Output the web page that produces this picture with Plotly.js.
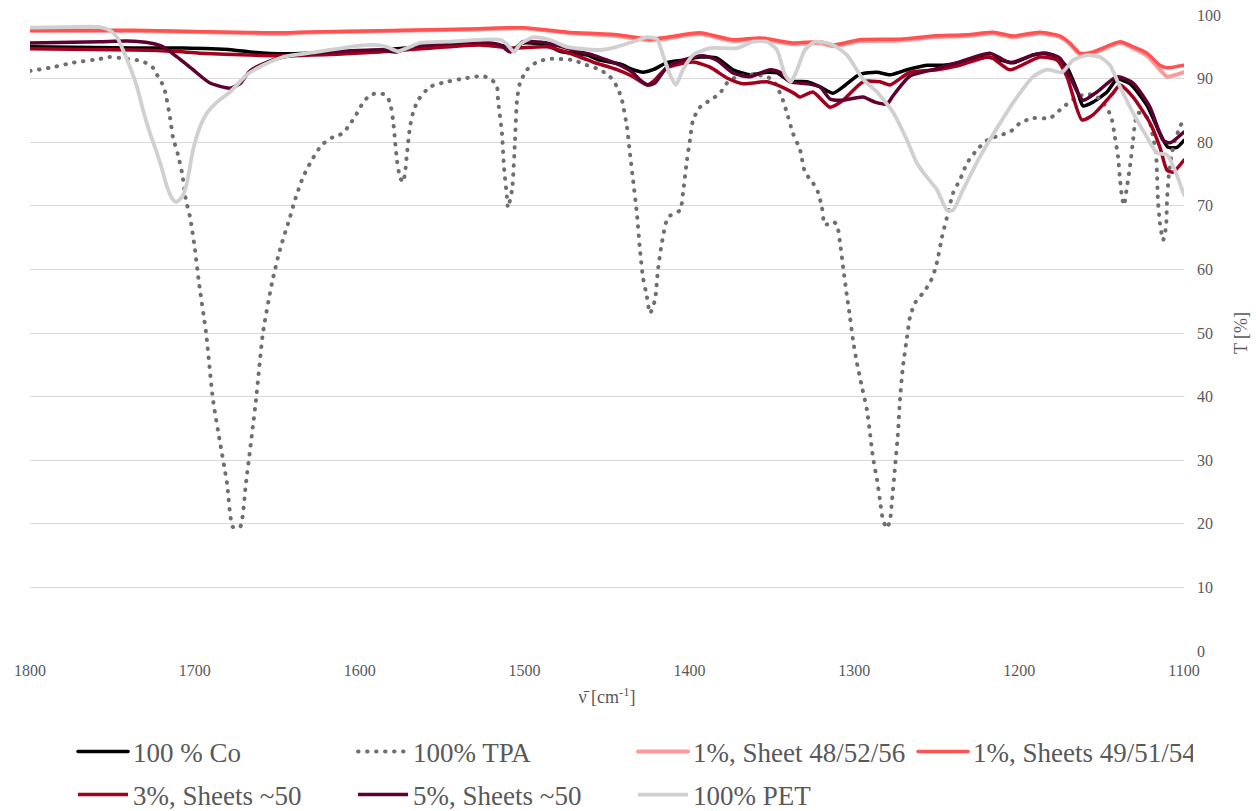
<!DOCTYPE html>
<html>
<head>
<meta charset="utf-8">
<script src="https://cdn.plot.ly/plotly-3.0.1.min.js"></script>
<style>
  html, body { margin: 0; padding: 0; background: #ffffff; font-family: "Liberation Serif", serif; }
  #chart { width: 1256px; height: 811px; }
  .scatterlayer path.js-line, .legend path.js-line { stroke-linecap: round; stroke-linejoin: round; }
</style>
</head>
<body>
<div id="chart"></div>
<script>
// FTIR transmission spectra, 1800–1100 cm-1

const coWn = [1800, 1737.5, 1707.2, 1676.9, 1666.6, 1646.5, 1587.7, 1527.0, 1510.7, 1507.0, 1501.0, 1486.4, 1478.5, 1462.1, 1454.3, 1442.1, 1434.2, 1428.2, 1422.1, 1413.6, 1403.9, 1393.6, 1383.3, 1373.6, 1363.3, 1352.9, 1346.9, 1339.0, 1328.7, 1320.8, 1312.9, 1306.8, 1296.5, 1286.2, 1278.3, 1268.0, 1255.9, 1246.2, 1235.9, 1219.5, 1203.7, 1191.6, 1185.5, 1177.0, 1171.0, 1164.9, 1161.3, 1155.2, 1146.7, 1140.6, 1132.8, 1122.5, 1114.6, 1109.7, 1104.3, 1100];
const coT  = [95.0, 94.8, 94.8, 94.5, 94.2, 93.9, 94.5, 95.6, 95.0, 94.5, 95.6, 95.3, 94.3, 93.7, 92.9, 92.3, 91.4, 91.0, 91.4, 92.5, 92.9, 93.4, 93.2, 91.4, 90.6, 91.0, 90.9, 89.6, 89.5, 88.7, 87.7, 88.7, 90.7, 91.0, 90.6, 91.4, 92.1, 92.1, 92.5, 93.4, 92.5, 93.7, 94.0, 93.4, 91.8, 88.2, 85.7, 86.3, 87.9, 89.9, 89.2, 85.8, 81.4, 79.2, 79.2, 80.3];

const tpaWn = [1800, 1786, 1774, 1757.5, 1752, 1741, 1735, 1730, 1725.4, 1723, 1720, 1718, 1715, 1713.3, 1710.2, 1707.8, 1705.4, 1702.9, 1699.9, 1697.5, 1693.2, 1689, 1684.8, 1680.5, 1676.9, 1672.6, 1669, 1662.9, 1658.7, 1653.2, 1648.4, 1642.3, 1639.3, 1634.4, 1629, 1622.9, 1616.2, 1610.1, 1607.1, 1602.9, 1598, 1593.8, 1588.9, 1584.1, 1581.6, 1579.8, 1578.6, 1577.4, 1575.6, 1573.7, 1572.5, 1571.3, 1569.5, 1567.7, 1564.6, 1557.4, 1547.1, 1534.9, 1525.2, 1519.8, 1516.7, 1516.1, 1513.7, 1512.5, 1510.7, 1510.1, 1507.6, 1505.8, 1504.6, 1502.8, 1498.5, 1492.5, 1484.6, 1470.6, 1462.1, 1454.3, 1448.2, 1443.9, 1440.9, 1437.9, 1436.1, 1434.2, 1431.8, 1430, 1428.2, 1425.8, 1423.9, 1420.9, 1419.1, 1416.7, 1413, 1405.7, 1403.9, 1401.5, 1399.7, 1397.8, 1393.6, 1387.5, 1381.5, 1377.2, 1371.1, 1361.4, 1352.9, 1348.1, 1343.3, 1340.2, 1337.2, 1332.9, 1329.9, 1325.1, 1322.1, 1319.6, 1317.8, 1312.9, 1310.5, 1308.7, 1306.8, 1304.4, 1302.6, 1300.8, 1298.4, 1295.3, 1292.3, 1290.5, 1288.7, 1286.2, 1284.4, 1282.6, 1280.2, 1278.3, 1277.1, 1275.3, 1273.5, 1272.3, 1270.5, 1268, 1266.2, 1263.2, 1258.3, 1254.1, 1251.1, 1249.2, 1246.8, 1243.8, 1240.1, 1235.9, 1231.6, 1225.6, 1219.5, 1211.6, 1205.6, 1199.5, 1191.6, 1181.3, 1173.4, 1164.9, 1158.8, 1152.8, 1149.1, 1146.1, 1143.7, 1141.9, 1140, 1138.8, 1137.6, 1136.4, 1134.6, 1132.8, 1130.9, 1129.7, 1127.9, 1123.7, 1120.6, 1118.8, 1117, 1116.4, 1115.8, 1114.6, 1112.7, 1110.9, 1110.3, 1109.1, 1107.3, 1105.5, 1102.4, 1100];
const tpaT  = [91.2, 91.8, 92.5, 93.1, 93.4, 93.1, 92.9, 92.5, 91.7, 90.6, 89.3, 87.9, 83.8, 80.8, 78.0, 75.2, 70.9, 68.2, 63.1, 57.9, 50.0, 39.5, 32.9, 26.4, 19.5, 19.5, 26.4, 39.5, 50.0, 57.9, 63.1, 68.2, 70.9, 74.5, 77.2, 79.6, 80.8, 81.4, 82.4, 84.0, 86.2, 87.4, 87.7, 87.4, 86.2, 83.5, 80.3, 77.2, 74.5, 73.7, 75.2, 78.3, 82.4, 84.6, 86.6, 88.7, 89.5, 90.1, 90.4, 89.8, 88.7, 86.6, 81.4, 76.1, 71.4, 69.7, 72.5, 80.3, 86.6, 89.3, 91.4, 92.6, 93.1, 92.9, 92.1, 91.4, 90.3, 88.7, 86.6, 82.4, 78.3, 74.1, 68.6, 63.1, 58.8, 55.7, 53.1, 55.2, 59.9, 64.2, 68.2, 69.3, 72.0, 77.2, 80.3, 83.5, 85.5, 86.6, 87.7, 89.3, 90.3, 90.6, 90.3, 89.3, 86.6, 84.0, 81.4, 78.8, 75.3, 73.6, 72.2, 69.7, 67.0, 67.5, 67.0, 64.3, 60.4, 55.7, 52.5, 48.9, 45.3, 41.5, 37.9, 34.3, 30.5, 26.9, 23.7, 20.6, 19.3, 20.6, 23.7, 28.9, 34.3, 39.5, 44.7, 49.4, 52.5, 54.7, 56.3, 57.9, 59.9, 61.9, 65.1, 68.2, 72.0, 74.1, 76.7, 78.8, 80.3, 81.1, 81.6, 83.0, 83.8, 83.8, 85.5, 87.1, 87.6, 87.1, 86.2, 85.1, 83.5, 80.8, 77.7, 74.1, 71.4, 70.1, 73.0, 76.1, 80.3, 83.0, 84.6, 84.3, 83.0, 80.8, 78.3, 75.2, 70.9, 67.3, 64.6, 66.7, 70.9, 75.2, 78.3, 80.3, 82.4, 83.8];

const s1aWn = [1800, 1737.5, 1676.9, 1646.5, 1636.2, 1595.6, 1534.9, 1501.0, 1474.3, 1443.9, 1423.9, 1413.6, 1393.6, 1373.6, 1357.2, 1337.2, 1320.8, 1312.9, 1296.5, 1272.3, 1252.3, 1231.6, 1215.9, 1203.7, 1187.4, 1175.2, 1169.2, 1163.1, 1155.2, 1138.8, 1130.9, 1122.5, 1114.6, 1110.3, 1100];
const s1aT  = [97.5, 97.5, 97.2, 97.0, 97.2, 97.4, 97.7, 97.9, 97.2, 96.7, 96.0, 96.3, 97.0, 95.9, 96.2, 95.4, 95.6, 95.1, 95.9, 96.0, 96.5, 96.7, 97.1, 96.5, 97.1, 96.5, 95.4, 93.8, 94.0, 95.6, 94.8, 93.6, 91.4, 90.3, 91.0];

const s1bWn = [1800, 1737.5, 1676.9, 1646.5, 1636.2, 1595.6, 1534.9, 1501.0, 1474.3, 1443.9, 1423.9, 1413.6, 1393.6, 1373.6, 1357.2, 1337.2, 1320.8, 1312.9, 1296.5, 1272.3, 1252.3, 1231.6, 1215.9, 1203.7, 1187.4, 1175.2, 1169.2, 1163.1, 1155.2, 1138.8, 1130.9, 1122.5, 1114.6, 1110.3, 1100];
const s1bT  = [97.6, 97.6, 97.3, 97.2, 97.3, 97.5, 97.8, 98.0, 97.3, 96.9, 96.2, 96.5, 97.2, 96.1, 96.4, 95.6, 95.8, 95.3, 96.1, 96.2, 96.7, 96.9, 97.3, 96.7, 97.3, 96.7, 95.6, 94.0, 94.2, 95.8, 95.0, 94.0, 92.1, 91.7, 92.1];

const s3Wn = [1800, 1737.5, 1713.3, 1696.9, 1666.6, 1646.5, 1587.7, 1527.0, 1507.0, 1486.4, 1466.4, 1458.5, 1443.9, 1434.2, 1425.8, 1422.1, 1413.6, 1397.8, 1387.5, 1377.2, 1367.5, 1352.9, 1345.1, 1336.0, 1332.9, 1325.1, 1314.7, 1306.8, 1294.7, 1284.4, 1278.3, 1266.2, 1249.8, 1235.9, 1217.7, 1205.6, 1187.4, 1177.0, 1171.0, 1161.9, 1155.2, 1143.1, 1138.8, 1130.9, 1120.6, 1114.6, 1110.3, 1106.7, 1100];
const s3T  = [94.7, 94.5, 94.3, 94.0, 93.7, 93.6, 94.2, 95.3, 94.8, 95.0, 93.4, 92.6, 91.4, 90.3, 89.0, 89.5, 91.7, 92.6, 91.8, 90.1, 89.2, 89.5, 88.8, 87.6, 87.1, 87.9, 85.5, 86.6, 89.5, 89.5, 89.0, 91.0, 91.4, 92.1, 93.4, 91.4, 93.4, 92.9, 90.3, 83.5, 84.3, 87.7, 89.0, 87.1, 83.0, 79.2, 75.6, 75.3, 77.2];

const s5Wn = [1800, 1757.5, 1741.2, 1727.2, 1719.3, 1710.8, 1701.1, 1690.8, 1678.7, 1672.6, 1666.6, 1656.2, 1646.5, 1616.2, 1587.7, 1577.4, 1567.7, 1527.0, 1514.9, 1508.8, 1504.6, 1501.0, 1486.4, 1466.4, 1458.5, 1442.1, 1434.2, 1430.0, 1425.1, 1420.9, 1413.6, 1403.9, 1391.8, 1383.3, 1373.6, 1363.3, 1351.1, 1345.1, 1339.0, 1328.7, 1320.8, 1314.7, 1306.8, 1294.7, 1287.4, 1280.2, 1276.5, 1266.2, 1252.3, 1237.7, 1217.7, 1205.6, 1191.6, 1183.1, 1175.2, 1169.2, 1161.3, 1152.8, 1140.6, 1130.9, 1120.6, 1112.7, 1108.5, 1100];
const s5T  = [95.6, 95.8, 95.9, 95.6, 95.0, 93.4, 91.4, 89.3, 88.5, 89.2, 91.2, 92.6, 93.4, 94.2, 94.5, 94.2, 95.0, 95.8, 95.3, 94.2, 95.0, 95.8, 95.6, 94.2, 93.7, 92.1, 90.9, 89.8, 89.0, 89.3, 91.8, 92.9, 93.6, 92.9, 90.9, 90.3, 91.4, 91.0, 89.5, 89.2, 88.7, 86.8, 86.6, 87.1, 86.3, 86.0, 87.3, 90.4, 91.4, 92.5, 94.0, 92.5, 93.7, 94.0, 93.2, 90.3, 86.6, 87.9, 90.3, 89.3, 85.5, 80.3, 79.9, 81.6];

const petWn = [1800, 1777.6, 1757.5, 1751.5, 1747.2, 1743.6, 1739.3, 1735.1, 1731.5, 1727.2, 1723.0, 1719.3, 1716.9, 1713.9, 1711.4, 1707.8, 1704.8, 1701.1, 1696.9, 1692.6, 1686.6, 1678.7, 1668.4, 1658.7, 1646.5, 1625.9, 1605.9, 1591.9, 1583.5, 1576.8, 1569.5, 1563.4, 1547.1, 1527.0, 1514.9, 1510.7, 1506.4, 1502.8, 1494.9, 1484.6, 1474.3, 1454.3, 1444.0, 1434.2, 1425.8, 1419.7, 1416.0, 1411.8, 1408.2, 1403.9, 1397.8, 1387.5, 1371.1, 1361.4, 1352.9, 1346.9, 1342.0, 1338.4, 1334.7, 1329.9, 1323.8, 1312.9, 1304.4, 1294.7, 1286.2, 1276.5, 1268.0, 1262.0, 1255.9, 1249.8, 1243.8, 1240.1, 1234.1, 1223.8, 1211.6, 1201.3, 1191.6, 1183.1, 1174.0, 1167.3, 1158.8, 1150.9, 1144.9, 1138.8, 1130.9, 1122.5, 1116.4, 1110.3, 1105.5, 1100];
const petT  = [98.0, 98.1, 98.1, 97.6, 96.5, 94.5, 91.8, 88.7, 85.1, 81.4, 78.3, 75.2, 73.0, 71.2, 70.6, 71.4, 73.6, 78.8, 82.4, 84.6, 86.3, 87.9, 90.6, 92.1, 93.4, 94.2, 95.0, 95.3, 95.0, 94.3, 95.0, 95.6, 95.8, 96.1, 96.1, 95.4, 94.2, 95.4, 96.5, 96.1, 95.0, 94.5, 95.0, 95.8, 96.5, 96.2, 93.7, 90.6, 89.0, 91.4, 93.7, 94.8, 94.8, 95.8, 95.8, 94.5, 90.6, 89.5, 91.4, 94.5, 95.8, 95.3, 93.7, 89.9, 87.9, 84.7, 80.3, 76.7, 74.5, 72.5, 69.3, 69.3, 72.5, 77.7, 83.0, 87.1, 90.3, 91.4, 91.0, 92.9, 93.7, 93.4, 92.1, 88.7, 84.6, 80.8, 78.3, 78.0, 75.6, 71.7];

const seriesNames = ['100 % Co', '100% TPA', '1%, Sheet 48/52/56', '1%, Sheets 49/51/54', '3%, Sheets ~50', '5%, Sheets ~50', '100% PET'];
const seriesColors = ['#000000', '#6f6f6f', '#ff9a9a', '#ff5353', '#a3001e', '#5e0030', '#d0d0d0'];
// first four entries go to the upper legend row, the rest to the lower one
const legendRow = ['legend', 'legend', 'legend', 'legend', 'legend2', 'legend2', 'legend2'];

const xTickVals = [1800, 1700, 1600, 1500, 1400, 1300, 1200, 1100];
const yTickVals = [0, 10, 20, 30, 40, 50, 60, 70, 80, 90, 100];

const serif = '"Liberation Serif", "Times New Roman", Times, serif';
const textGray = '#595959';

function line(wn, t, i, width, dash) {
  return {
    x: wn, y: t, type: 'scatter', mode: 'lines', name: seriesNames[i],
    legend: legendRow[i],
    line: { color: seriesColors[i], width: width, dash: dash || 'solid', shape: 'spline', smoothing: 0.6 },
    hoverinfo: 'x+y+name'
  };
}

const traces = [
  line(coWn, coT, 0, 3.5),
  line(tpaWn, tpaT, 1, 4, '0.5px,8.5px'),
  line(s1aWn, s1aT, 2, 4),
  line(s1bWn, s1bT, 3, 3.5),
  line(s3Wn, s3T, 4, 3.5),
  line(s5Wn, s5T, 5, 3.5),
  line(petWn, petT, 6, 3.8)
];

const legendCommon = {
  orientation: 'h',
  xanchor: 'left', yanchor: 'middle',
  entrywidth: 215, entrywidthmode: 'pixels',
  itemwidth: 50,
  font: { family: serif, size: 27, color: textGray },
  bgcolor: 'rgba(0,0,0,0)'
};

const layout = {
  width: 1256, height: 811,
  margin: { l: 30, r: 72, t: 15, b: 160, autoexpand: false },
  paper_bgcolor: '#ffffff', plot_bgcolor: '#ffffff',
  showlegend: true,
  font: { family: serif, color: textGray },
  xaxis: {
    range: [1800, 1100],
    tickvals: xTickVals,
    ticks: '', showgrid: false, zeroline: false, showline: false,
    ticklabelstandoff: 8,
    tickfont: { family: serif, size: 16, color: textGray },
    title: { text: '\u03BD\u0304 [cm<sup>-1</sup>]', font: { family: serif, size: 18, color: textGray }, standoff: 12 }
  },
  yaxis: {
    range: [0, 100], side: 'right',
    tickvals: yTickVals,
    ticks: '', showgrid: true, gridcolor: '#d9d9d9', gridwidth: 1,
    zeroline: false, showline: false,
    ticklabelstandoff: 12,
    tickfont: { family: serif, size: 16, color: textGray },
    title: { text: 'T [%]', font: { family: serif, size: 18, color: textGray }, standoff: 14 }
  },
  legend: Object.assign({}, legendCommon, { x: 0.0373, y: -0.1588 }),
  legend2: Object.assign({}, legendCommon, { x: 0.0373, y: -0.2264 })
};

Plotly.newPlot('chart', traces, layout, { displayModeBar: false, staticPlot: true });
</script>
</body>
</html>
